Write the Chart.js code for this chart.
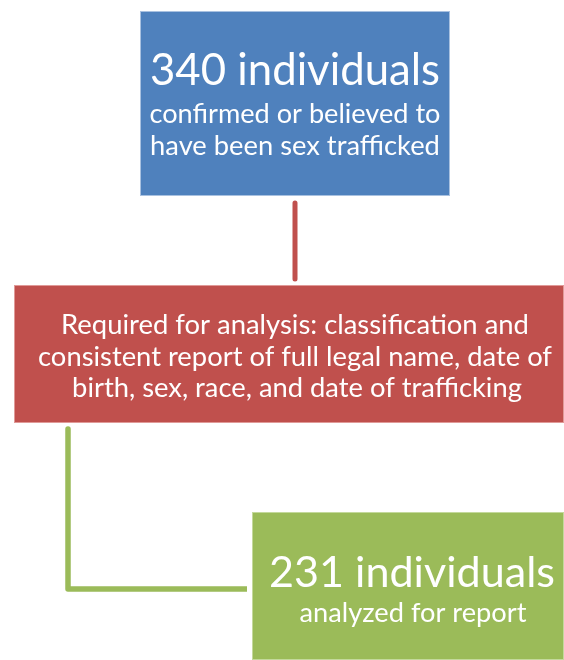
<!DOCTYPE html>
<html>
<head>
<meta charset="utf-8">
<script src="https://cdn.jsdelivr.net/npm/chart.js@4.4.1/dist/chart.umd.min.js"></script>
<style>
html,body{margin:0;padding:0;background:#fff;}
#wrap{width:564px;height:660px;}
</style>
</head>
<body>
<div id="wrap"><canvas id="c" width="564" height="660"></canvas></div>
<script>
// ---- data ----
const stepCounts = [340, null, 231];
const stepTitles = ["340 individuals", null, "231 individuals"];
const stepNotes = [
  ["confirmed or believed to", "have been sex trafficked"],
  ["Required for analysis: classification and", "consistent report of full legal name, date of", "birth, sex, race, and date of trafficking"],
  ["analyzed for report"]
];
const stepColors = ["#4F81BD", "#C0504D", "#9BBB59"];
const stepEdgeColors = ["#a9c1e0", "#e09a98", "#c4d99c"];

// ---- layout (canvas coordinate units on the hidden linear scales) ----
const boxes = [
  {x0:140, x1:450, y0:11,  y1:196},
  {x0:14,  x1:564, y0:285, y1:423},
  {x0:252, x1:564, y0:512, y1:660}
];
// text lines: [centerX, baselineY, targetWidth]
const titleLayout = [[295, 85, 290], null, [412, 587, 286]];
const noteLayout = [
  [[295, 123, 291], [295, 155, 290]],
  [[295, 334, 468], [295, 366, 514], [297, 397, 450]],
  [[413, 622, 227]]
];
const connectors = [
  {color:"#C0504D", width:5, pts:[{x:295,y:203},{x:295,y:279}]},
  {color:"#9BBB59", width:5.5, pts:[{x:68,y:429},{x:68,y:589},{x:247,y:589}]}
];

const FONT = "Lato, 'Open Sans', sans-serif";

function fitFont(ctx, text, target){
  ctx.font = "40px " + FONT;
  const w = ctx.measureText(text).width;
  return 40 * target / w;
}

const flowPlugin = {
  id: 'flow',
  beforeDatasetsDraw(chart){
    const {ctx, scales:{x, y}} = chart;
    ctx.save();
    boxes.forEach((b, i) => {
      const px0 = x.getPixelForValue(b.x0), px1 = x.getPixelForValue(b.x1);
      const py0 = y.getPixelForValue(b.y0), py1 = y.getPixelForValue(b.y1);
      ctx.fillStyle = stepColors[i];
      ctx.fillRect(px0, py0, px1 - px0, py1 - py0);
      ctx.strokeStyle = stepEdgeColors[i];
      ctx.lineWidth = 1;
      ctx.strokeRect(px0 + 0.5, py0 + 0.5, px1 - px0 - 1, py1 - py0 - 1);
      ctx.fillStyle = stepColors[i];
      ctx.fillRect(px0 + 1, py0 + 1, px1 - px0 - 2, py1 - py0 - 2.5);
    });
    ctx.restore();
  },
  afterDatasetsDraw(chart){
    const {ctx, scales:{x, y}} = chart;
    ctx.save();
    ctx.fillStyle = "#ffffff";
    ctx.textAlign = "center";
    ctx.textBaseline = "alphabetic";
    stepTitles.forEach((t, i) => {
      if (!t) return;
      const [cx, by, tw] = titleLayout[i];
      const fs = fitFont(ctx, t, tw);
      ctx.font = fs.toFixed(2) + "px " + FONT;
      ctx.fillText(t, x.getPixelForValue(cx), y.getPixelForValue(by));
    });
    stepNotes.forEach((lines, i) => {
      lines.forEach((t, j) => {
        const [cx, by, tw] = noteLayout[i][j];
        const fs = fitFont(ctx, t, tw);
        ctx.font = fs.toFixed(2) + "px " + FONT;
        ctx.fillText(t, x.getPixelForValue(cx), y.getPixelForValue(by));
      });
    });
    ctx.restore();
  }
};

new Chart(document.getElementById('c'), {
  type: 'scatter',
  data: {
    datasets: connectors.map(c => ({
      data: c.pts,
      showLine: true,
      borderColor: c.color,
      backgroundColor: c.color,
      borderWidth: c.width,
      pointRadius: 0,
      tension: 0,
      borderCapStyle: 'butt',
      borderJoinStyle: 'round'
    }))
  },
  options: {
    responsive: false,
    animation: false,
    layout: {padding: 0},
    plugins: {legend:{display:false}, tooltip:{enabled:false}},
    scales: {
      x: {type:'linear', min:0, max:564, display:false},
      y: {type:'linear', min:0, max:660, reverse:true, display:false}
    }
  },
  plugins: [flowPlugin]
});
</script>
</body>
</html>
